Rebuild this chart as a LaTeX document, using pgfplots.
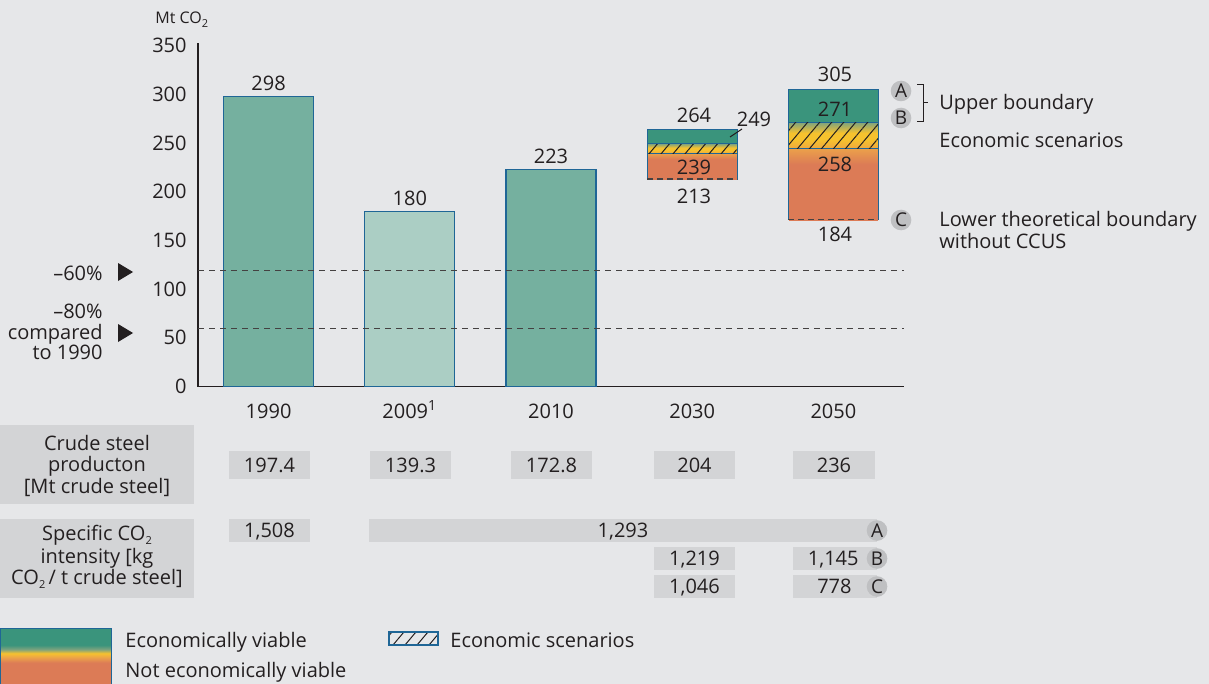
\documentclass[border=0pt]{standalone}
\usepackage{fontspec}
\setmainfont{Open Sans}
\usepackage{pgfplots}
\pgfplotsset{compat=1.18}
\usetikzlibrary{patterns.meta}

\definecolor{bgc}{HTML}{E6E7E9}
\definecolor{boxc}{HTML}{D3D4D6}
\definecolor{circc}{HTML}{BFC0C2}
\definecolor{txt}{HTML}{231F20}
\definecolor{barblue}{HTML}{1F6696}
\definecolor{tealc}{HTML}{75B09F}
\definecolor{lightc}{HTML}{ABCEC4}
\definecolor{greenc}{HTML}{3A947C}
\definecolor{oc}{HTML}{DC7B56}
\definecolor{otop}{HTML}{EBA04A}
\definecolor{hyel}{HTML}{F6C22E}
\definecolor{htop}{HTML}{7FA37E}
\definecolor{hbot}{HTML}{EFA740}

\pgfdeclareverticalshading{hatchshade}{100bp}{color(0bp)=(hbot); color(25bp)=(hbot); color(42bp)=(hyel); color(55bp)=(hyel); color(75bp)=(htop); color(100bp)=(htop)}
\pgfdeclareverticalshading{orangeshade}{100bp}{color(0bp)=(oc); color(25bp)=(oc); color(64bp)=(oc); color(75bp)=(otop); color(100bp)=(otop)}
\pgfdeclareverticalshading{legendshade}{100bp}{color(0bp)=(oc); color(48bp)=(oc); color(52bp)=(otop); color(55.5bp)=(hyel); color(58.5bp)=(htop); color(62bp)=(greenc); color(100bp)=(greenc)}

\newcommand{\fs}{\fontsize{10}{12}\selectfont}
\newcommand{\two}{\raisebox{-0.45ex}{\fontsize{5.5}{6}\selectfont 2}}

\tikzset{hatchfill/.style={pattern={Lines[angle=50,distance=4.6pt,line width=0.5pt]}, pattern color=txt}}

\pgfplotsset{
  base/.style={width=353pt, height=171.5pt, scale only axis,
    xmin=-0.5, xmax=4.5, ymin=0, ymax=352, enlargelimits=false,
    at={(99pt,-193.25pt)}, anchor=south west, bar width=45pt, clip=false}
}

\begin{document}
\begin{tikzpicture}
\fill[bgc] (0,0) rectangle (604.5pt,-342pt);
\useasboundingbox (0,0) rectangle (604.5pt,-342pt);

% main axis: historic bars
\begin{axis}[base,
  axis x line=bottom, axis y line=left,
  axis line style={-, draw=txt, line width=0.6pt},
  xtick={0,1,2,3,4},
  xticklabels={1990,2009\textsuperscript{1},2010,2030,2050},
  ytick={0,50,...,350},
  major tick length=0pt,
  tick label style={font=\fs, text=txt},
  /pgf/number format/assume math mode=true,
  yticklabel style={anchor=east, inner sep=0pt, xshift=-5.5pt},
  xticklabel style={anchor=base, inner sep=0pt, yshift=-15.75pt},
]
\addplot[ybar, bar shift=0pt, fill=tealc, draw=barblue, line width=0.6pt,
  nodes near coords, nodes near coords style={font=\fs, text=txt, anchor=base, inner sep=0pt, yshift=2.8pt}]
  coordinates {(0,298) (2,223)};
\addplot[ybar, bar shift=0pt, fill=lightc, draw=barblue, line width=0.6pt,
  nodes near coords, nodes near coords style={font=\fs, text=txt, anchor=base, inner sep=0pt, yshift=2.8pt}]
  coordinates {(1,180)};
\addplot[sharp plot, no marks, draw=txt!85, line width=0.5pt, dash pattern=on 3pt off 2.5pt]
  coordinates {(-0.5,119.2) (4.5,119.2)};
\addplot[sharp plot, no marks, draw=txt!85, line width=0.5pt, dash pattern=on 3pt off 2.5pt]
  coordinates {(-0.5,59.6) (4.5,59.6)};
\end{axis}

% 2030 floating stacked bar
\begin{axis}[base, hide axis, ybar stacked]
\addplot[draw=none, fill=none] coordinates {(3,213)};
\addplot[draw=barblue, line width=0.6pt, shading=orangeshade] coordinates {(3,26)};
\addplot[draw=barblue, line width=0.6pt, shading=hatchshade] coordinates {(3,10)};
\addplot[draw=barblue, line width=0.6pt, fill=greenc] coordinates {(3,15)};
\end{axis}

% 2050 floating stacked bar
\begin{axis}[base, hide axis, ybar stacked]
\addplot[draw=none, fill=none] coordinates {(4,171)};
\addplot[draw=barblue, line width=0.6pt, shading=orangeshade] coordinates {(4,73)};
\addplot[draw=barblue, line width=0.6pt, shading=hatchshade] coordinates {(4,27)};
\addplot[draw=barblue, line width=0.6pt, fill=greenc] coordinates {(4,34)};
\end{axis}

\begin{scope}[x=0.5pt, y=-0.5pt, every node/.style={text=txt, font=\fs, inner sep=0pt}]
% hatch overlays and dashed lower edges of the scenario bars
\fill[hatchfill] (647.8,153.3) rectangle (736.6,144.2);
\fill[hatchfill] (788.9,148.4) rectangle (877.8,122.7);
\draw[oc, line width=1.2pt] (647.8,178.95) -- (736.6,178.95);
\draw[txt!85, line width=0.6pt, dash pattern=on 3pt off 2pt] (647.2,178.95) -- (737.2,178.95);
\draw[oc, line width=1.2pt] (788.9,219.9) -- (877.8,219.9);
\draw[txt!85, line width=0.6pt, dash pattern=on 3pt off 2pt] (788.4,219.9) -- (878.4,219.9);
% unit label
\node[anchor=base west, font=\fontsize{8}{9.6}\selectfont] at (155,24) {Mt CO\two};
% reduction targets
\node[anchor=base east] at (103,280) {–60\%};
\node[anchor=base east] at (103,318) {–80\%};
\node[anchor=base east] at (103,339) {compared};
\node[anchor=base east] at (103,359) {to 1990};
\fill[txt] (118,263) -- (133,272) -- (118,281) -- cycle;
\fill[txt] (118,324) -- (133,333) -- (118,342) -- cycle;
% 2030 labels
\node[anchor=base] at (694,123) {264};
\node[anchor=base] at (754,127) {249};
\draw[txt, line width=0.5pt] (730,137) -- (742,129);
\node[anchor=base] at (694,175) {239};
\node[anchor=base] at (694,204) {213};
% 2050 labels
\node[anchor=base] at (835,82) {305};
\node[anchor=base] at (835,117) {271};
\node[anchor=base] at (835,172) {258};
\node[anchor=base] at (835,242) {184};
% scenario markers
\foreach \l/\yy in {A/91, B/118, C/220}
  \node[circle, fill=circc, minimum size=10.3pt, font=\fontsize{9.5}{11}\selectfont] at (901,\yy) {\l};
\draw[txt, line width=0.5pt] (917,85) -- (923,85) -- (923,122) -- (917,122);
\draw[txt, line width=0.5pt] (923,103) -- (928,103);
\node[anchor=base west] at (939,110) {Upper boundary};
\node[anchor=base west] at (939,148) {Economic scenarios};
\node[anchor=base west] at (939,227) {Lower theoretical boundary};
\node[anchor=base west] at (939,249) {without CCUS};
% table row 1
\fill[boxc] (0,425) rectangle (194,504);
\node[anchor=base] at (97,450) {Crude steel};
\node[anchor=base] at (97,471) {producton};
\node[anchor=base] at (97,493) {[Mt crude steel]};
\foreach \xa/\xb/\v in {229/310/197.4, 370/451/139.3, 511/592/172.8, 654/735/204, 793/875/236}{
  \fill[boxc] (\xa,451) rectangle (\xb,479);
  \node[anchor=base] at ({(\xa+\xb)/2},472) {\v};
}
% table row 2
\fill[boxc] (0,519) rectangle (194,598);
\node[anchor=base] at (97,540) {Specific CO\two};
\node[anchor=base] at (97,563) {intensity [kg};
\node[anchor=base] at (97,584) {CO\two\,/ t crude steel]};
\fill[boxc] (229,519) rectangle (310,542);
\node[anchor=base] at (269.5,537.5) {1,508};
\fill[boxc] (369,519) rectangle (877,542);
\node[anchor=base] at (623,537.5) {1,293};
\fill[boxc] (654,547) rectangle (735,570);
\node[anchor=base] at (694.5,565.5) {1,219};
\fill[boxc] (793,547) rectangle (877,570);
\node[anchor=base east] at (859,565.5) {1,145};
\fill[boxc] (654,575) rectangle (735,598);
\node[anchor=base] at (694.5,593.5) {1,046};
\fill[boxc] (793,575) rectangle (877,598);
\node[anchor=base east] at (852,593.5) {778};
\foreach \l/\yy in {A/530.5, B/558.5, C/586.5}
  \node[circle, fill=circc, minimum size=10.3pt, font=\fontsize{9.5}{11}\selectfont] at (877,\yy) {\l};
% legend
\shade[shading=legendshade, draw=barblue, line width=0.6pt] (0.6,628.6) rectangle (111.4,692);
\node[anchor=base west] at (125,647) {Economically viable};
\node[anchor=base west] at (125,677) {Not economically viable};
\draw[barblue, line width=0.6pt, hatchfill] (389,632) rectangle (438,645);
\node[anchor=base west] at (450,647) {Economic scenarios};
\end{scope}
\end{tikzpicture}
\end{document}
